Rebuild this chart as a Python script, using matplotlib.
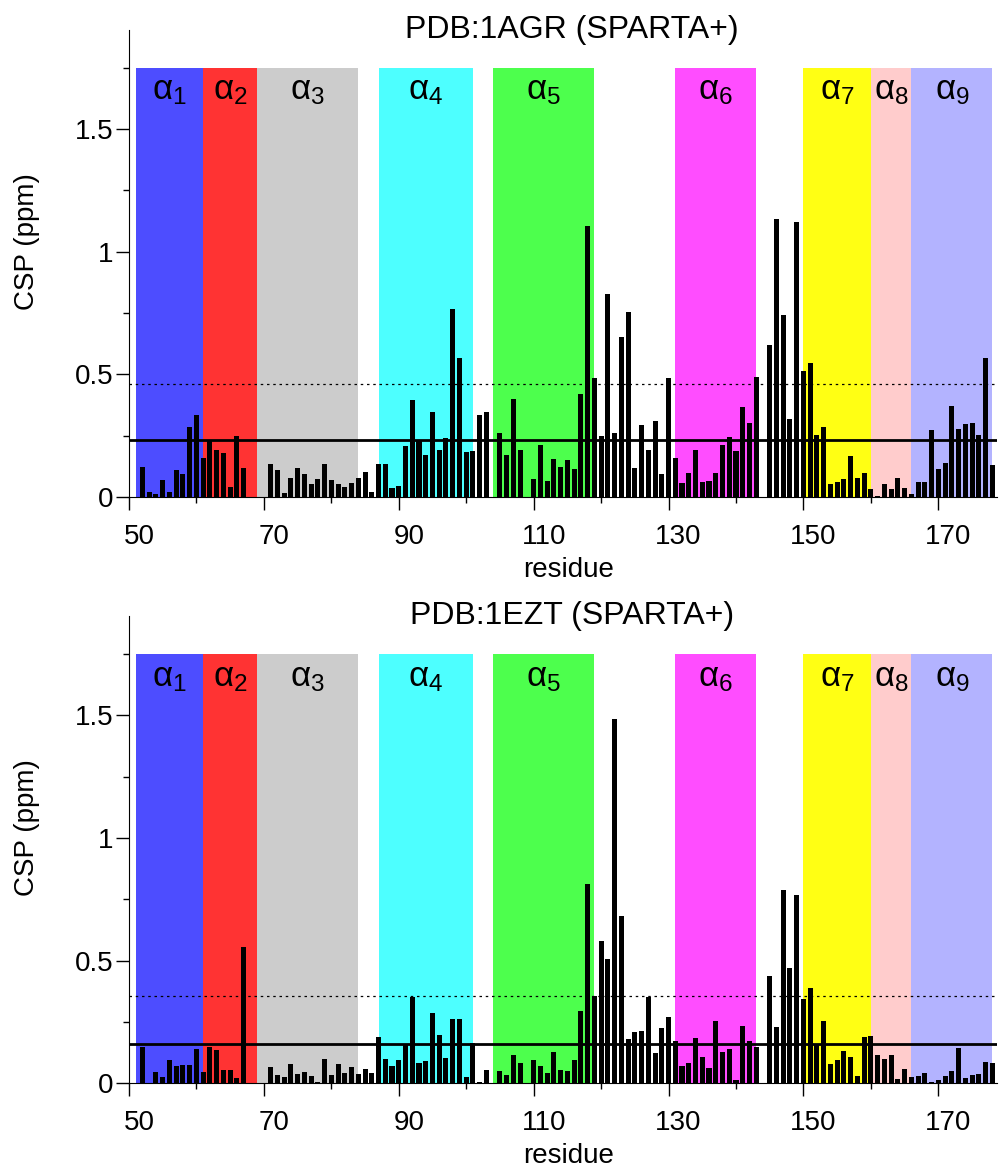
import numpy as np
import matplotlib.pyplot as plt
from matplotlib.ticker import FixedLocator, MultipleLocator, FuncFormatter
from matplotlib.transforms import ScaledTranslation

plt.rcParams['font.family'] = ['Liberation Sans', 'DejaVu Sans']
plt.rcParams['mathtext.fontset'] = 'custom'
plt.rcParams['mathtext.rm'] = 'Liberation Sans'
plt.rcParams['mathtext.it'] = 'Liberation Sans'

# residues with a CSP value (68-70, 104, 109, 144 have none)
residues = [r for r in range(52, 179) if r not in (68, 69, 70, 104, 109, 144)]

csp_1agr = [
    0.122, 0.019, 0.014, 0.068, 0.022, 0.109, 0.092, 0.285, 0.336, 0.159, 0.231, 0.190, 0.181, 0.043, 0.247, 0.118,
    0.136, 0.109, 0.018, 0.079, 0.118, 0.092, 0.052, 0.075, 0.136, 0.071, 0.052, 0.041, 0.057, 0.079, 0.103, 0.020,
    0.133, 0.133, 0.038, 0.046, 0.209, 0.397, 0.234, 0.170, 0.348, 0.190, 0.239, 0.768, 0.568, 0.182, 0.188, 0.333, 0.348,
    0.261, 0.173, 0.399, 0.190,
    0.075, 0.213, 0.067, 0.154, 0.124, 0.152, 0.115, 0.421, 1.107, 0.484, 0.247, 0.829, 0.260, 0.652, 0.755, 0.120,
    0.295, 0.190, 0.311, 0.095, 0.484, 0.158, 0.057, 0.099, 0.190, 0.061, 0.065, 0.098, 0.212, 0.243, 0.186, 0.367,
    0.302, 0.488,
    0.618, 1.135, 0.743, 0.317, 1.122, 0.512, 0.548, 0.255, 0.285, 0.054, 0.061, 0.072, 0.167, 0.079, 0.099, 0.034,
    0.003, 0.054, 0.033, 0.076, 0.038, 0.014, 0.061, 0.061, 0.272, 0.114, 0.139, 0.372, 0.277, 0.299, 0.303, 0.254,
    0.568, 0.129,
]

csp_1ezt = [
    0.149, 0.003, 0.048, 0.026, 0.095, 0.071, 0.073, 0.073, 0.141, 0.048, 0.149, 0.136, 0.054, 0.056, 0.023, 0.554,
    0.068, 0.034, 0.024, 0.077, 0.038, 0.045, 0.031, 0.005, 0.098, 0.033, 0.079, 0.041, 0.068, 0.037, 0.057, 0.043,
    0.188, 0.098, 0.072, 0.094, 0.156, 0.353, 0.082, 0.091, 0.285, 0.197, 0.102, 0.262, 0.264, 0.027, 0.163, 0.005, 0.054,
    0.050, 0.034, 0.115, 0.083,
    0.094, 0.071, 0.041, 0.126, 0.054, 0.049, 0.096, 0.295, 0.814, 0.357, 0.579, 0.507, 1.485, 0.683, 0.182, 0.209,
    0.212, 0.351, 0.122, 0.224, 0.272, 0.173, 0.071, 0.082, 0.185, 0.106, 0.063, 0.255, 0.126, 0.141, 0.014, 0.234,
    0.173, 0.149,
    0.439, 0.228, 0.788, 0.469, 0.768, 0.345, 0.390, 0.159, 0.253, 0.080, 0.095, 0.133, 0.107, 0.031, 0.189, 0.194,
    0.115, 0.101, 0.114, 0.016, 0.057, 0.026, 0.031, 0.041, 0.005, 0.012, 0.031, 0.049, 0.145, 0.023, 0.033, 0.039,
    0.088, 0.083,
]

# mean (solid) and threshold (dotted) lines
mean_lines = [0.231, 0.159]
thr_lines = [0.459, 0.357]
titles = ['PDB:1AGR (SPARTA+)', 'PDB:1EZT (SPARTA+)']

# helices: start, end (inclusive)
helix_names = ['1', '2', '3', '4', '5', '6', '7', '8', '9']
helix_start = [51, 61, 69, 87, 104, 131, 150, 160, 166]
helix_end = [60, 68, 83, 100, 118, 142, 159, 165, 177]
helix_colors = ['#4d4dff', '#ff3333', '#cccccc', '#4dffff', '#4dff4d',
                '#ff4dff', '#ffff14', '#ffcccc', '#b3b3ff']

fig = plt.figure(figsize=(9.99, 11.69), dpi=100)
axes = [fig.add_axes([0.1291, 0.5748, 0.8689, 0.3995]),
        fig.add_axes([0.1291, 0.0733, 0.8689, 0.3995])]

for ax, vals, m, t, title in zip(axes, [csp_1agr, csp_1ezt], mean_lines, thr_lines, titles):
    for s, e, c, n in zip(helix_start, helix_end, helix_colors, helix_names):
        ax.fill_between([s, e + 1], 0, 1.75, color=c, lw=0, zorder=1)
        ax.text((s + e + 1) / 2, 1.62, r'$\alpha_{%s}$' % n, ha='center', va='baseline',
                fontsize=25, zorder=5)
    ax.bar(residues, vals, width=0.75, color='black', zorder=3)
    ax.axhline(m, color='black', lw=2, zorder=4)
    ax.axhline(t, color='black', lw=0.9, ls=(0, (2, 3)), zorder=4)

    ax.set_xlim(50, 178.7)
    ax.set_ylim(0, 1.904)
    ax.spines['top'].set_visible(False)
    ax.spines['right'].set_visible(False)

    ax.xaxis.set_major_locator(FixedLocator(range(50, 180, 20)))
    ax.xaxis.set_minor_locator(FixedLocator(range(60, 180, 20)))
    ax.yaxis.set_major_locator(MultipleLocator(0.5))
    ax.yaxis.set_minor_locator(MultipleLocator(0.25))
    ax.yaxis.set_major_formatter(FuncFormatter(lambda v, p: '%g' % v))
    ax.tick_params(which='major', length=9.4, width=1, labelsize=20, direction='out')
    ax.tick_params(which='minor', length=4, width=1, direction='out')
    ax.tick_params(axis='x', which='major', pad=10)
    ax.tick_params(axis='y', which='major', pad=2)
    for lab in ax.get_xticklabels():
        lab.set_transform(lab.get_transform() + ScaledTranslation(0.1, 0, fig.dpi_scale_trans))

    ax.set_xlabel('residue', fontsize=20)
    ax.set_ylabel('CSP (ppm)', fontsize=20)
    ax.xaxis.set_label_coords(0.506, -0.128)
    ax.yaxis.set_label_coords(-0.103, 0.548)
    ax.text(0.51, 1.0, title, transform=ax.transAxes, ha='center', va='center', fontsize=23)

fig.savefig('out.png', dpi=100)
